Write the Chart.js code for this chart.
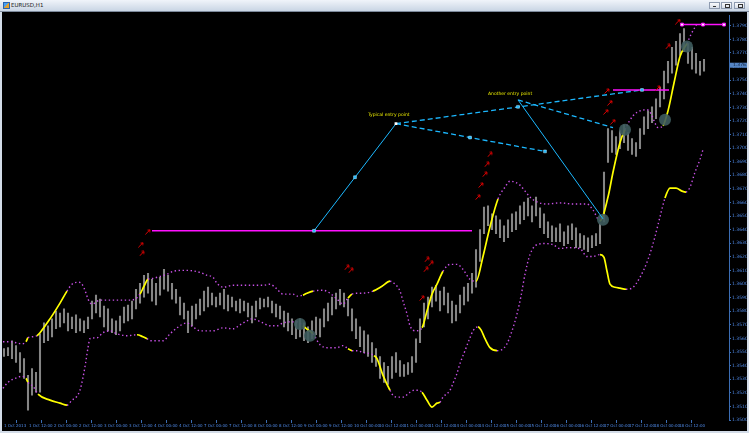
<!DOCTYPE html>
<html>
<head>
<meta charset="utf-8">
<title>EURUSD,H1</title>
<script src="https://cdn.jsdelivr.net/npm/chart.js@4.4.1/dist/chart.umd.min.js"></script>
<style>
  html, body { margin: 0; padding: 0; }
  body { width: 749px; height: 433px; overflow: hidden; position: relative; background: #d3dce8; font-family: "DejaVu Sans", sans-serif; }
  #caption { position: absolute; left: 0; top: 0; width: 749px; height: 11px; background: linear-gradient(#f0f4fa, #c9d5e4); border-bottom: 1px solid #7d8a9c; }
  #icon { position: absolute; left: 3px; top: 2px; width: 5px; height: 5px; border: 1px solid #2a63b0; background: linear-gradient(135deg, #4aa0f0 50%, #e0a030 50%); }
  #caption span { position: absolute; left: 11px; top: 2px; font-size: 5.5px; line-height: 7px; color: #202020; }
  .btn { position: absolute; top: 2px; width: 11px; height: 7px; box-sizing: border-box; border: 1px solid #8e9bb0; background: linear-gradient(#fafbfd, #d6dde8); }
  .btn i { position: absolute; left: 3px; width: 3px; border: 0 solid #333; }
  #plot { position: absolute; left: 2px; top: 12px; width: 745px; height: 419px; background: #000; }
</style>
</head>
<body>
<div id="caption">
  <div id="icon"></div><span>EURUSD,H1</span>
  <div class="btn" style="left:709px"><i style="top:3px;border-bottom-width:1px"></i></div>
  <div class="btn" style="left:721px"><i style="top:1px;height:2px;border-width:1px"></i></div>
  <div class="btn" style="left:734px"><i style="top:1px;height:2px;border-width:1px 1px 1px 1px"></i></div>
</div>
<div id="plot"><canvas id="c" width="745" height="419"></canvas></div>
<script>
// price bars (one every bar index), high / low
const barHigh = [
  1.35525,1.35532,1.35583,1.35547,1.35496,1.35452,1.35328,1.35379,1.35350,1.35634,
  1.35714,1.35693,1.35744,1.35802,1.35787,1.35817,1.35787,1.35758,1.35773,1.35744,
  1.35729,1.35758,1.35875,1.35919,1.35889,1.35838,1.35817,1.35744,1.35729,1.35765,
  1.35831,1.35846,1.35875,1.35962,1.36006,1.36064,1.36079,1.36035,1.36006,1.36050,
  1.36108,1.36064,1.36006,1.35962,1.35904,1.35860,1.35802,1.35838,1.35853,1.35889,
  1.35948,1.35977,1.35933,1.35904,1.35933,1.35962,1.35919,1.35904,1.35875,1.35889,
  1.35875,1.35860,1.35838,1.35875,1.35897,1.35889,1.35904,1.35875,1.35853,1.35838,
  1.35802,1.35787,1.35744,1.35729,1.35744,1.35714,1.35685,1.35729,1.35758,1.35744,
  1.35817,1.35860,1.35904,1.35933,1.35962,1.35933,1.35889,1.35817,1.35744,1.35685,
  1.35656,1.35627,1.35569,1.35525,1.35467,1.35423,1.35394,1.35467,1.35496,1.35437,
  1.35408,1.35423,1.35467,1.35598,1.35744,1.35860,1.35904,1.35977,1.35991,1.35948,
  1.35977,1.35933,1.35875,1.35846,1.35919,1.35977,1.36006,1.36079,1.36254,1.36400,
  1.36567,1.36575,1.36516,1.36502,1.36473,1.36429,1.36473,1.36516,1.36531,1.36575,
  1.36604,1.36633,1.36575,1.36640,1.36560,1.36516,1.36458,1.36429,1.36414,1.36443,
  1.36385,1.36429,1.36443,1.36414,1.36371,1.36356,1.36341,1.36356,1.36371,1.36443,
  1.36823,1.37143,1.37129,1.37085,1.37129,1.37172,1.37114,1.37070,1.37041,1.37143,
  1.37231,1.37274,1.37304,1.37362,1.37449,1.37566,1.37639,1.37741,1.37785,1.37843,
  1.37880,1.37770,1.37741,1.37697,1.37639,1.37654
];
const barLow = [
  1.35467,1.35474,1.35452,1.35423,1.35350,1.35306,1.35073,1.35182,1.35204,1.35204,
  1.35569,1.35583,1.35612,1.35671,1.35685,1.35714,1.35656,1.35671,1.35642,1.35656,
  1.35642,1.35671,1.35744,1.35787,1.35758,1.35685,1.35656,1.35642,1.35627,1.35656,
  1.35714,1.35729,1.35744,1.35817,1.35860,1.35904,1.35933,1.35875,1.35846,1.35919,
  1.35962,1.35948,1.35889,1.35860,1.35773,1.35744,1.35642,1.35693,1.35744,1.35773,
  1.35802,1.35831,1.35846,1.35831,1.35846,1.35817,1.35802,1.35831,1.35802,1.35787,
  1.35802,1.35758,1.35714,1.35758,1.35817,1.35831,1.35831,1.35787,1.35758,1.35744,
  1.35685,1.35656,1.35627,1.35598,1.35612,1.35583,1.35569,1.35598,1.35627,1.35612,
  1.35685,1.35729,1.35773,1.35817,1.35846,1.35831,1.35765,1.35656,1.35598,1.35539,
  1.35496,1.35467,1.35423,1.35394,1.35306,1.35277,1.35262,1.35306,1.35350,1.35321,
  1.35321,1.35335,1.35350,1.35423,1.35569,1.35685,1.35744,1.35831,1.35875,1.35802,
  1.35846,1.35787,1.35714,1.35729,1.35787,1.35846,1.35875,1.35933,1.35977,1.36166,
  1.36371,1.36429,1.36400,1.36371,1.36341,1.36312,1.36341,1.36385,1.36400,1.36443,
  1.36473,1.36502,1.36458,1.36502,1.36414,1.36371,1.36341,1.36312,1.36312,1.36312,
  1.36283,1.36298,1.36327,1.36268,1.36268,1.36254,1.36239,1.36268,1.36283,1.36298,
  1.36458,1.36895,1.36968,1.36954,1.36997,1.37041,1.36983,1.36954,1.36939,1.36997,
  1.37100,1.37143,1.37187,1.37216,1.37304,1.37362,1.37479,1.37552,1.37610,1.37683,
  1.37712,1.37624,1.37581,1.37552,1.37537,1.37566
];
const lastPrice = 1.3761;

// bollinger bands, read at bar positions
const upperX = [-0.25,1.5,4.5,5.5,6,7,8.25,9,11.5,14,15.75,17,18.75,19.5,20.5,21,22,24,27.75,31,32.75,34,35,36,37.25,39,40.75,42.25,45.25,49,50.75,52.25,53.25,54.75,57.25,60.75,64.75,66.5,68,69.75,72.25,73.25,74.75,75.75,77.25,79.75,81.5,83.25,84.75,86,87,88.25,89.75,92.25,94.5,96.5,97.5,99,99.75,100.75,101.5,103,104.5,105.75,107,108.25,109.75,111.5,113.25,114.75,116.5,118,119.75,121.5,123.5,125.25,126.5,127.75,129,130.25,131.5,133.25,135.75,139,142.25,145.75,147.25,149,151,152.25,154,155.25,157.25,159,160.75,161.75,162.5,163.5,164.75,166,167.5,169,170.75,171.75,173.25];
const upperY = [1.35576,1.35576,1.35561,1.35576,1.35605,1.35612,1.35620,1.35642,1.35744,1.35860,1.35948,1.35999,1.36013,1.35999,1.35933,1.35889,1.35853,1.35882,1.35882,1.35882,1.35889,1.35926,1.35984,1.36035,1.36042,1.36057,1.36072,1.36093,1.36101,1.36086,1.36064,1.36050,1.36006,1.35977,1.35991,1.35991,1.35991,1.35999,1.35970,1.35926,1.35926,1.35911,1.35919,1.35933,1.35948,1.35955,1.35933,1.35889,1.35853,1.35897,1.35926,1.35933,1.35933,1.35948,1.35984,1.36021,1.36006,1.35948,1.35875,1.35780,1.35693,1.35656,1.35678,1.35802,1.35926,1.35999,1.36094,1.36145,1.36145,1.36108,1.36035,1.36021,1.36203,1.36422,1.36626,1.36713,1.36757,1.36750,1.36728,1.36684,1.36640,1.36604,1.36589,1.36597,1.36589,1.36589,1.36545,1.36465,1.36640,1.36823,1.37041,1.37136,1.37238,1.37274,1.37282,1.37253,1.37202,1.37151,1.37165,1.37274,1.37479,1.37675,1.37770,1.37836,1.37916];
const lowerX = [-0.25,1,2.75,4.5,5.5,6,7.25,8.5,11.5,14,15.75,17,18.25,19,19.75,20.5,21,21.5,23.25,24.75,26.5,28.25,30.75,33.25,34.75,35.75,36.5,39.75,41.5,43.25,45.75,47.25,49,52.25,54.75,57.25,59,60.75,62,64.75,66.5,68.25,69.75,71.5,73.25,74.75,76,77.25,79,80.75,83.25,84.75,86,87,88.25,89.75,91.5,92.5,93.25,94.75,96.5,97.25,98.25,99.75,101.5,102.5,103.5,104.5,105.75,107,108.25,109,109.75,111.5,112.25,113.25,114,115.25,116.5,117.25,118.5,119.25,120.25,121.5,123.25,124.5,125.75,127,128.25,129.25,130.25,131.5,133.25,135.25,137.25,139,140.75,144,145.75,147.25,149,150,150.75,151.5,152.75,154,155.5,157,159,161,162.75,164,165.25,166.5,168,169.5,170.5,171.5,172.75,174,174.75];
const lowerY = [1.35233,1.35277,1.35306,1.35321,1.35306,1.35277,1.35248,1.35190,1.35146,1.35124,1.35109,1.35146,1.35175,1.35219,1.35313,1.35437,1.35532,1.35598,1.35605,1.35642,1.35656,1.35634,1.35620,1.35627,1.35612,1.35598,1.35583,1.35583,1.35634,1.35678,1.35714,1.35685,1.35656,1.35656,1.35678,1.35671,1.35700,1.35729,1.35744,1.35714,1.35693,1.35693,1.35714,1.35722,1.35722,1.35693,1.35663,1.35634,1.35554,1.35532,1.35532,1.35547,1.35525,1.35510,1.35510,1.35496,1.35488,1.35474,1.35452,1.35328,1.35219,1.35182,1.35168,1.35168,1.35204,1.35219,1.35219,1.35204,1.35146,1.35095,1.35124,1.35131,1.35168,1.35219,1.35270,1.35343,1.35416,1.35510,1.35605,1.35656,1.35685,1.35663,1.35598,1.35532,1.35510,1.35518,1.35561,1.35656,1.35780,1.35911,1.36072,1.36217,1.36290,1.36298,1.36290,1.36261,1.36268,1.36261,1.36203,1.36203,1.36217,1.36196,1.36094,1.35999,1.35977,1.35970,1.35962,1.35970,1.36050,1.36181,1.36349,1.36495,1.36633,1.36706,1.36706,1.36684,1.36677,1.36713,1.36823,1.36917,1.36990];
// stretches where the bands widen (drawn yellow)
const expansions = [[5.5,6],[8.25,15.75],[34,36],[74.75,76.75],[86,87],[92.5,96.5],[104.5,109],[118.5,123.75],[149.25,155.25],[164.75,170.75]];

// hand-drawn objects
const levelA = [[37,1.36392],[117,1.36392]];
const levelB = [[152.25,1.37428],[166.25,1.37428]];
const levelC = [[169.5,1.37909],[174.75,1.37909],[180,1.37909]];
const waveUp = [[77.5,1.36392],[98,1.37180]];
const waveTop = [[98,1.37180],[159.5,1.37428]];
const waveMid = [[98,1.37180],[116.5,1.37078],[135.25,1.36976]];
const waveFan = [[128.5,1.37355],[152.25,1.37151]];
const waveDrop = [[128.5,1.37355],[149.75,1.36480]];
const anchorsX = [77.5,87.75,116.5,135.25,128.5,159.5];
const anchorsY = [1.36392,1.36786,1.37078,1.36976,1.37304,1.37428];
const pivotX = [98], pivotY = [1.37180];
const entryX = [74,76.5,149.75,155.25,165.25,170.75];
const entryY = [1.35707,1.35620,1.36473,1.37136,1.37209,1.37748];
const arrowX = [36,34.25,34.5,85.75,86.75,105.75,106.75,105.5,104.5,121.5,120.75,120.25,119.25,118.5,150.75,151.5,150.5,152.25,163.5,166,168.5];
const arrowY = [1.36385,1.36290,1.36225,1.36123,1.36101,1.36181,1.36152,1.36108,1.35897,1.36954,1.36881,1.36808,1.36728,1.36640,1.37420,1.37333,1.37267,1.37194,1.37442,1.37748,1.37931];
const noteText = ['Typical entry point', 'Another entry point'];
const noteX = [91, 121];
const noteY = [1.37245, 1.37398];

// axes
const timeLabels = ['1 Oct 2013','1 Oct 12:00','2 Oct 00:00','2 Oct 12:00','3 Oct 00:00','3 Oct 12:00','4 Oct 00:00','4 Oct 12:00','7 Oct 00:00','7 Oct 12:00','8 Oct 00:00','8 Oct 12:00','9 Oct 00:00','9 Oct 12:00','10 Oct 00:00','10 Oct 12:00','11 Oct 00:00','11 Oct 12:00','14 Oct 00:00','14 Oct 12:00','15 Oct 00:00','15 Oct 12:00','16 Oct 00:00','16 Oct 12:00','17 Oct 00:00','17 Oct 12:00','18 Oct 00:00','18 Oct 12:00'];
const barsPerLabel = 6.25;
const priceMin = 1.3500, priceMax = 1.379743, priceStep = 0.001;

const pts = (xs, ys) => xs.map((x, i) => ({ x: x, y: ys[i] }));
const pairs = arr => arr.map(p => ({ x: p[0], y: p[1] }));
const hot = ctx => {
  const m = (ctx.p0.parsed.x + ctx.p1.parsed.x) / 2;
  return expansions.some(r => m >= r[0] - 0.01 && m <= r[1] + 0.01);
};

// small red arrow used by the signal marks
const arrowImg = document.createElement('canvas');
arrowImg.width = 6; arrowImg.height = 6;
(function () {
  const a = arrowImg.getContext('2d');
  a.strokeStyle = '#e00000'; a.lineWidth = 1;
  a.beginPath();
  a.moveTo(0.5, 5.5); a.lineTo(5, 1);
  a.moveTo(5, 1); a.lineTo(2.5, 1.2);
  a.moveTo(5, 1); a.lineTo(4.8, 3.5);
  a.stroke();
})();

const CYAN = '#1cb8ff', PURPLE = '#c850e6', MAGENTA = '#ff10ff';

function band(xs, ys) {
  return {
    type: 'line', data: pts(xs, ys), order: 4,
    borderColor: PURPLE, borderWidth: 1.4, borderDash: [1.4, 2.6],
    pointRadius: 0, cubicInterpolationMode: 'monotone',
    segment: {
      borderColor: c => hot(c) ? '#ffff00' : undefined,
      borderDash: c => hot(c) ? [] : undefined,
      borderWidth: c => hot(c) ? 1.7 : undefined
    }
  };
}
function trend(p, color, dashed, width) {
  return {
    type: 'line', data: pairs(p), order: 1,
    borderColor: color, borderWidth: width || 1.3, borderDash: dashed ? [5, 3] : [],
    pointRadius: 0, tension: 0
  };
}

const overlay = {
  id: 'overlay',
  afterDatasetsDraw(chart) {
    const { ctx, scales: { x, y } } = chart;
    ctx.save();
    ctx.font = '4.5px "DejaVu Sans"';
    ctx.fillStyle = '#e8e800';
    ctx.textBaseline = 'middle';
    noteText.forEach((t, i) => ctx.fillText(t, x.getPixelForValue(noteX[i]), y.getPixelForValue(noteY[i])));
    ctx.restore();
  },
  afterDraw(chart) {
    const { ctx, chartArea, scales: { y } } = chart;
    const py = y.getPixelForValue(lastPrice);
    ctx.save();
    ctx.fillStyle = '#5585c4';
    ctx.fillRect(chartArea.right + 1, py - 2.5, 17, 5);
    ctx.fillStyle = '#10203a';
    ctx.font = '4.5px "DejaVu Sans"';
    ctx.textBaseline = 'middle';
    ctx.fillText(lastPrice.toFixed(4), chartArea.right + 4, py);
    ctx.restore();
  }
};

Chart.defaults.font.family = '"DejaVu Sans", sans-serif';

new Chart(document.getElementById('c'), {
  type: 'scatter',
  data: {
    datasets: [
      { type: 'scatter', data: pts(pivotX, pivotY), order: 0, pointStyle: 'rect', pointRadius: 2, backgroundColor: '#ffffff', borderColor: '#ffffff', borderWidth: 0 },
      { type: 'scatter', data: pts(anchorsX, anchorsY), order: 0, pointStyle: 'rect', pointRadius: 2, backgroundColor: CYAN, borderColor: '#b8ecff', borderWidth: 0.5 },
      { type: 'scatter', data: pts(arrowX, arrowY), order: 0, pointStyle: arrowImg, pointRadius: 3 },
      { type: 'line', data: pairs(levelC), order: 1, borderColor: MAGENTA, borderWidth: 1.5, pointStyle: 'rect', pointRadius: 2, pointBackgroundColor: '#ffffff', pointBorderColor: MAGENTA, pointBorderWidth: 1 },
      trend(levelA, MAGENTA, false, 1.5),
      trend(levelB, MAGENTA, false, 1.5),
      trend(waveUp, CYAN, false, 1),
      trend(waveTop, CYAN, true),
      trend(waveMid, CYAN, true),
      trend(waveFan, CYAN, true),
      trend(waveDrop, CYAN, false, 1),
      { type: 'scatter', data: pts(entryX, entryY), order: 3, pointRadius: 6, backgroundColor: 'rgba(62,92,94,0.9)', borderWidth: 0 },
      band(upperX, upperY),
      band(lowerX, lowerY),
      { type: 'bar', data: barLow.map((lo, i) => ({ x: i, y: [lo, barHigh[i]] })), order: 5, backgroundColor: '#858585', barThickness: 1.4 }
    ]
  },
  options: {
    responsive: false,
    animation: false,
    events: [],
    layout: { padding: 0, autoPadding: false },
    plugins: { legend: { display: false }, tooltip: { enabled: false } },
    scales: {
      x: {
        type: 'linear', min: -0.5, max: 181.25, offset: false,
        afterFit: s => { s.height = 11; },
        afterBuildTicks: s => { s.ticks = timeLabels.map((t, k) => ({ value: k * barsPerLabel })); },
        ticks: { autoSkip: false, maxRotation: 0, align: 'start', padding: 1, color: '#4f8ae8', font: { size: 4 }, callback: (v, i) => timeLabels[i] },
        grid: { drawOnChartArea: false, tickLength: 3, color: '#3b6db3' },
        border: { display: false }
      },
      y: {
        type: 'linear', position: 'right', min: priceMin, max: priceMax,
        afterFit: s => { s.width = 18; },
        ticks: { stepSize: priceStep, includeBounds: false, autoSkip: false, padding: 1, color: '#4f8ae8', font: { size: 4.5 }, callback: v => v.toFixed(4) },
        grid: { drawOnChartArea: false, tickLength: 2, color: '#3b6db3' },
        border: { color: '#3b6db3' }
      }
    }
  },
  plugins: [overlay]
});
</script>
</body>
</html>
